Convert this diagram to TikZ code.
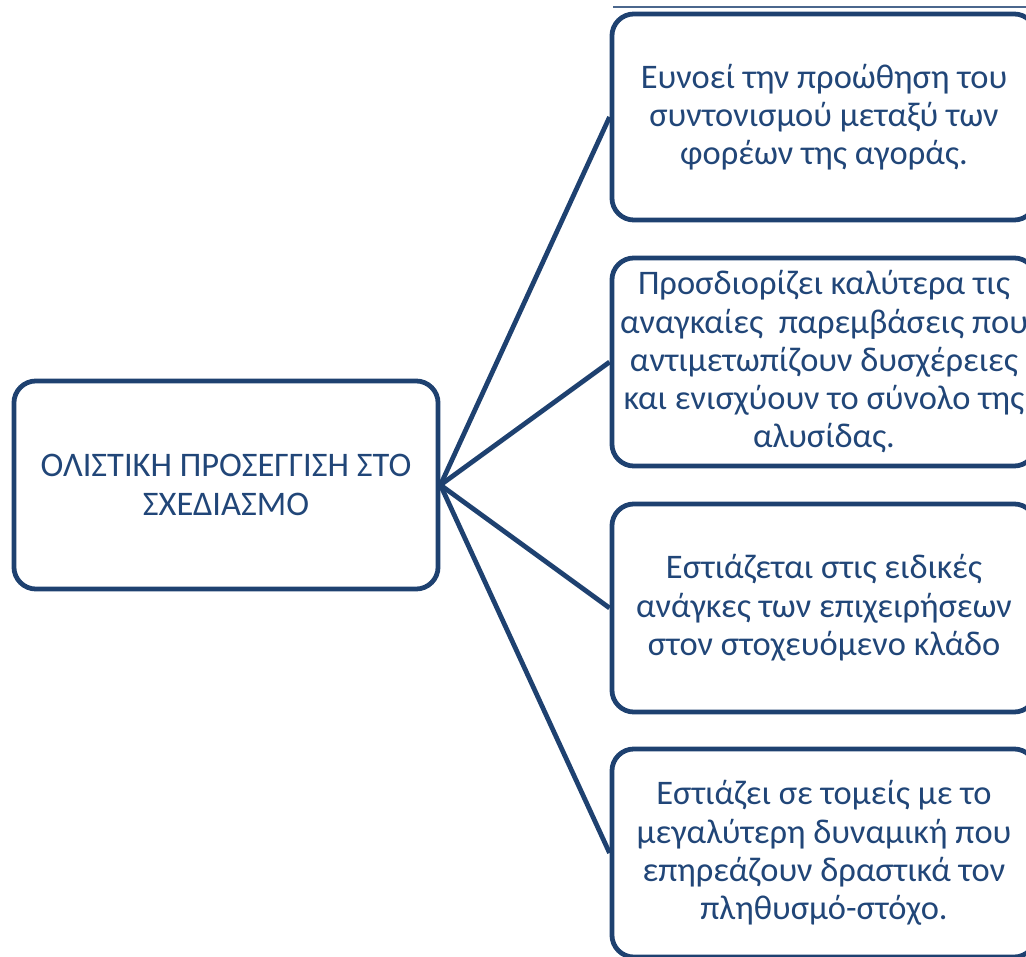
\documentclass[tikz,border=0pt]{standalone}
\usepackage{fontspec}
\setmainfont{Carlito}
\usepackage{tikz}
\definecolor{navy}{RGB}{30,65,112}
\definecolor{navytext}{RGB}{33,70,120}

\begin{document}
\begin{tikzpicture}[x=0.025cm,y=-0.025cm]
\tikzstyle{boxi}=[rectangle,draw=navy,line width=3.4pt,rounded corners=0.55cm,minimum width=10.6cm,minimum height=5.2cm,align=center,text=navytext,font=\fontsize{24.5}{27.2}\selectfont]
\tikzstyle{link}=[draw=navy,line width=3.4pt]
\useasboundingbox (0,0) rectangle (1026,957);
\clip (0,0) rectangle (1026,957);
\node [boxi] (holistic) at (226,485) {ΟΛΙΣΤΙΚΗ ΠΡΟΣΕΓΓΙΣΗ ΣΤΟ\\ΣΧΕΔΙΑΣΜΟ};
\node [boxi,minimum height=5.15cm] (coord) at (824,117) {Ευνοεί την προώθηση του\\συντονισμού μεταξύ των\\φορέων της αγοράς.};
\node [boxi] (define) at (824,362) {Προσδιορίζει καλύτερα τις\\αναγκαίες \ παρεμβάσεις που\\αντιμετωπίζουν δυσχέρειες\\και ενισχύουν το σύνολο της\\αλυσίδας.};
\node [boxi] (needs) at (824,608) {Εστιάζεται στις ειδικές\\ανάγκες των επιχειρήσεων\\στον στοχευόμενο κλάδο};
\node [boxi] (sectors) at (824,853) {Εστιάζει σε τομείς με το\\μεγαλύτερη δυναμική που\\επηρεάζουν δραστικά τον\\πληθυσμό-στόχο.};
\draw[navy!80,line width=1pt] (613,7) -- (1026,7);
\draw [link] (holistic.east) -- (coord.west);
\draw [link] (holistic.east) -- (define.west);
\draw [link] (holistic.east) -- (needs.west);
\draw [link] (holistic.east) -- (sectors.west);
\end{tikzpicture}
\end{document}
